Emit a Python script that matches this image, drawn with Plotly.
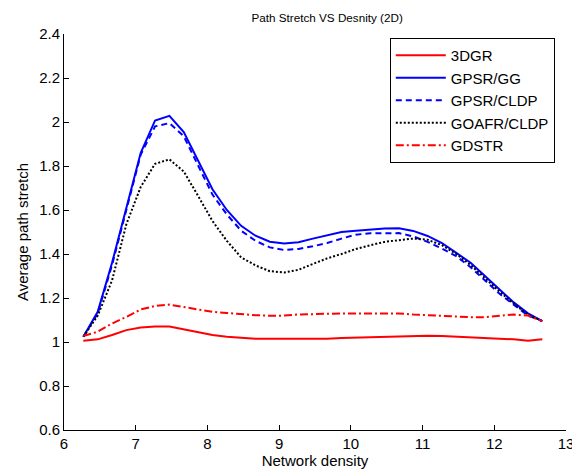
import plotly.graph_objects as go

density = [round(6.27 + 0.2 * k, 2) for k in range(33)]

gr3d = [1.006, 1.012, 1.032, 1.054, 1.066, 1.071, 1.070, 1.057, 1.047, 1.032, 1.024,
        1.020, 1.015, 1.015, 1.015, 1.015, 1.014, 1.015, 1.018, 1.020, 1.022, 1.025,
        1.027, 1.028, 1.028, 1.027, 1.024, 1.022, 1.020, 1.018, 1.012, 1.006, 1.012]

gpsr_gg = [1.024, 1.137, 1.360, 1.610, 1.860, 2.007, 2.028, 1.954, 1.825, 1.694, 1.600,
           1.528, 1.483, 1.456, 1.448, 1.453, 1.470, 1.485, 1.500, 1.506, 1.512, 1.516,
           1.517, 1.505, 1.482, 1.450, 1.405, 1.360, 1.300, 1.240, 1.180, 1.130, 1.095]

gpsr_cldp = [1.024, 1.130, 1.350, 1.600, 1.852, 1.980, 1.995, 1.935, 1.800, 1.670, 1.580,
             1.506, 1.460, 1.430, 1.418, 1.423, 1.435, 1.450, 1.470, 1.488, 1.494, 1.496,
             1.495, 1.480, 1.455, 1.425, 1.390, 1.340, 1.280, 1.220, 1.170, 1.120, 1.095]

goafr_cldp = [1.024, 1.120, 1.280, 1.536, 1.705, 1.810, 1.830, 1.775, 1.664, 1.550, 1.460,
              1.385, 1.348, 1.322, 1.316, 1.328, 1.355, 1.380, 1.400, 1.423, 1.440, 1.455,
              1.463, 1.470, 1.465, 1.440, 1.400, 1.350, 1.290, 1.230, 1.175, 1.125, 1.095]

gdstr = [1.027, 1.047, 1.084, 1.114, 1.148, 1.164, 1.170, 1.160, 1.148, 1.137, 1.132,
         1.126, 1.122, 1.119, 1.120, 1.125, 1.127, 1.130, 1.130, 1.130, 1.130, 1.130,
         1.130, 1.125, 1.122, 1.120, 1.115, 1.113, 1.113, 1.118, 1.125, 1.120, 1.095]

series = [
    ("3DGR", gr3d, "#ff0000", "solid"),
    ("GPSR/GG", gpsr_gg, "#0000ff", "solid"),
    ("GPSR/CLDP", gpsr_cldp, "#0000ff", "6px,4px"),
    ("GOAFR/CLDP", goafr_cldp, "#000000", "2px,2px"),
    ("GDSTR", gdstr, "#ff0000", "8px,3px,2px,3px"),
]

fig = go.Figure()
for name, vals, color, dash in series:
    fig.add_trace(go.Scatter(x=density, y=vals, mode="lines", name=name,
                             line=dict(color=color, width=2, dash=dash)))

FAM = "Liberation Sans, Arial, sans-serif"
font = dict(family=FAM, size=15, color="black")

# page body has an 8px default margin, so the figure is sized to fit the window
W, H = 572, 463

fig.update_layout(
    width=W, height=H,
    margin=dict(l=56, r=14, t=26, b=41),
    paper_bgcolor="white", plot_bgcolor="white",
    font=font,
    showlegend=True,
    title=dict(text="Path Stretch VS Desnity (2D)", x=0.558, xanchor="center",
               y=1 - 10 / H, yanchor="middle",
               font=dict(family=FAM, size=11.7, color="black")),
    legend=dict(x=0.649, y=0.99, xanchor="left", yanchor="top",
                bgcolor="white", bordercolor="black", borderwidth=1,
                font=dict(family=FAM, size=15, color="black"),
                tracegroupgap=0, itemwidth=50),
    xaxis=dict(range=[6, 13], tick0=6, dtick=1, showgrid=False, zeroline=False,
               showline=True, linecolor="black", linewidth=1, ticks="inside",
               ticklen=5, tickcolor="black", automargin=False,
               tickfont=dict(family=FAM, size=15),
               title=dict(text="Network density", standoff=2,
                          font=dict(family=FAM, size=15))),
    yaxis=dict(range=[0.6, 2.4], tick0=0.6, dtick=0.2, showgrid=False, zeroline=False,
               showline=True, linecolor="black", linewidth=1, ticks="inside",
               ticklen=5, tickcolor="black", tickformat="~g", automargin=False,
               tickfont=dict(family=FAM, size=15),
               title=dict(text="Average path stretch", standoff=6,
                          font=dict(family=FAM, size=15))),
)

fig.write_html("out.html")
